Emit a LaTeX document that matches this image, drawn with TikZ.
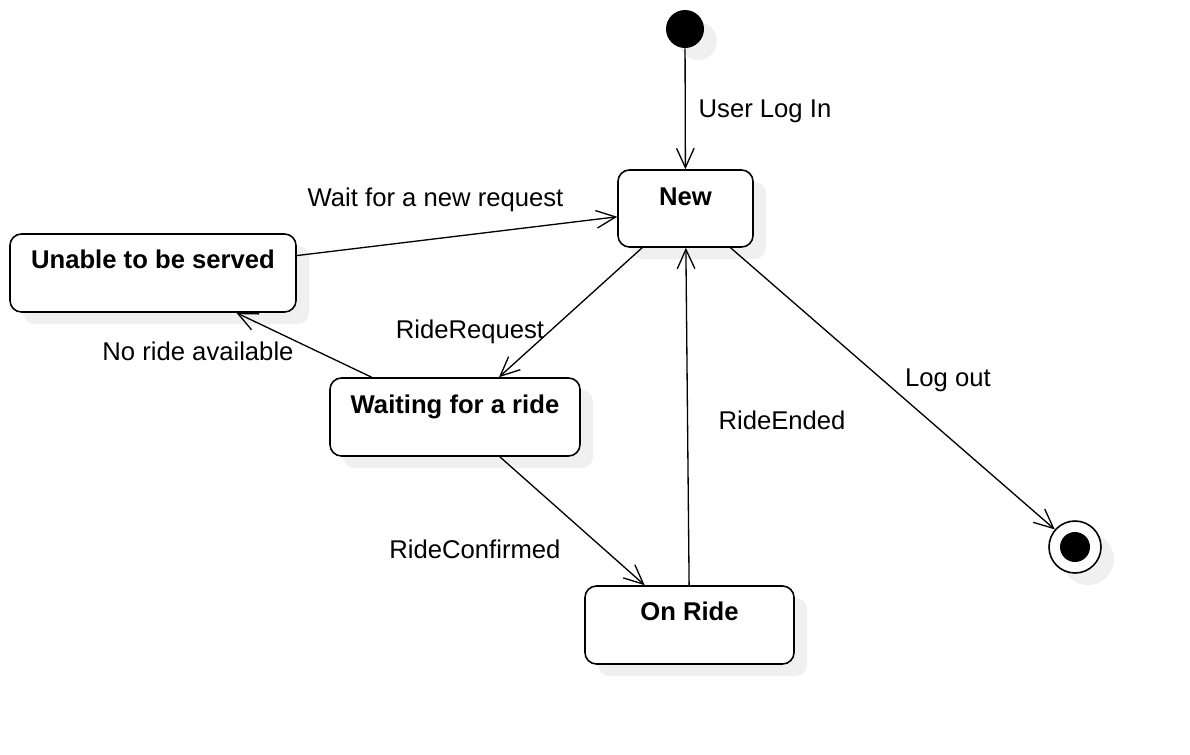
\documentclass[tikz,border=0pt]{standalone}
\usepackage{fontspec}
\setmainfont{Liberation Sans}
\usetikzlibrary{arrows.meta,shadows}

\begin{document}
\begin{tikzpicture}[x=0.02cm, y=-0.02cm,
    font=\fontsize{14.6}{17.5}\selectfont,
    statebox/.style={draw, line width=0.9pt, rounded corners=6.5pt, fill=white, inner sep=0pt,
        drop shadow={shadow xshift=0.26cm, shadow yshift=-0.24cm, fill=black!6, opacity=1}},
    statename/.style={anchor=base, font=\fontsize{14.6}{17.5}\selectfont\bfseries},
    trlabel/.style={anchor=base},
    trans/.style={line width=0.75pt, -{Straight Barb[length=11pt, width=10pt, line width=0.75pt]}}
]
    \def\px{0.02cm}
    \useasboundingbox (0,0) rectangle (1190,754);

    % Pseudo states
    \node[circle, fill=black, inner sep=0pt, minimum size=38*\px,
        drop shadow={shadow xshift=0.26cm, shadow yshift=-0.24cm, fill=black!6, opacity=1}] (init) at (685,29) {};
    \node[circle, draw, line width=0.9pt, fill=white, inner sep=0pt, minimum size=52*\px,
        drop shadow={shadow xshift=0.26cm, shadow yshift=-0.24cm, fill=black!6, opacity=1}] (final) at (1075,547) {};
    \node[circle, fill=black, inner sep=0pt, minimum size=30*\px] (finaldot) at (final) {};

    % States
    \node[statebox, minimum width=135*\px, minimum height=77*\px] (new) at (685.5,208.5) {};
    \node[statename] (newname) at (685.5,205) {New};
    \node[statebox, minimum width=286*\px, minimum height=78*\px] (unable) at (153,273) {};
    \node[statename] (unablename) at (153,268) {Unable to be served};
    \node[statebox, minimum width=250*\px, minimum height=78*\px] (waiting) at (455,417) {};
    \node[statename] (waitingname) at (455,413) {Waiting for a ride};
    \node[statebox, minimum width=209*\px, minimum height=78*\px] (onride) at (689.5,625) {};
    \node[statename] (onridename) at (689.5,620) {On Ride};

    % Transitions
    \draw[trans] (init) -- (new);
    \draw[trans] (unable) -- (new);
    \draw[trans] (new) -- (waiting);
    \draw[trans] (waiting) -- (unable);
    \draw[trans] (waiting) -- (onride);
    \draw[trans] (onride) -- (new);
    \draw[trans] (new) -- (final);

    % Labels
    \node[trlabel] (lblogin) at (765,117) {User Log In};
    \node[trlabel] (lbwait) at (435.5,206) {Wait for a new request};
    \node[trlabel] (lbrequest) at (470,338) {RideRequest};
    \node[trlabel] (lbnoride) at (198,360) {No ride available};
    \node[trlabel] (lbconfirmed) at (475,558) {RideConfirmed};
    \node[trlabel] (lbended) at (782,429) {RideEnded};
    \node[trlabel] (lblogout) at (948,386) {Log out};
\end{tikzpicture}
\end{document}
